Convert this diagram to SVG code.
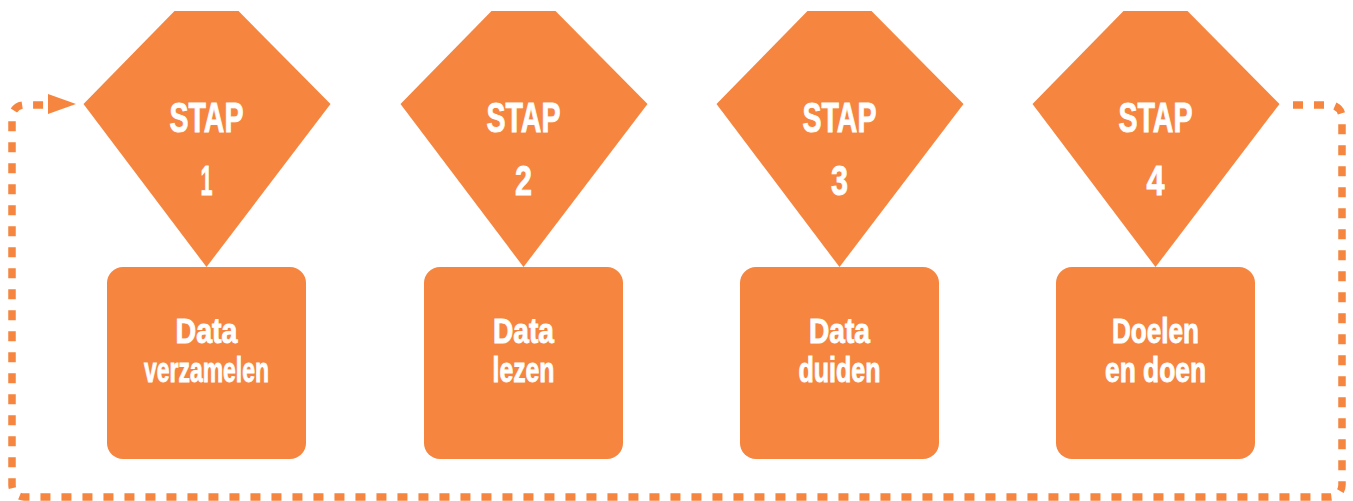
<svg xmlns="http://www.w3.org/2000/svg" width="1353" height="501" viewBox="0 0 1353 501">
<style>
.shape{fill:#F5853F;}
.t{font-family:"Liberation Sans",Arial,sans-serif;font-weight:bold;fill:#FFFFFF;stroke:#FFFFFF;stroke-width:0.9;text-anchor:middle;}
.big{font-size:42px;}
.lbl{font-size:35px;}
.dash{fill:none;stroke:#F5853F;stroke-width:7.5;stroke-dasharray:10 11;}
</style>
<defs>
<polygon id="kite" points="-32,11 32,11 124,104 0,267 -123,104"/>
<rect id="box" x="-99.5" y="267" width="199" height="192" rx="16" ry="16"/>
</defs>
<rect width="1353" height="501" fill="#FFFFFF"/>
<g id="connectors">
<path class="dash" d="M1293,105 H1330 A12,12 0 0 1 1342,117 V485 A12,12 0 0 1 1330,497 H24 A12,12 0 0 1 12,485 V117 A12,12 0 0 1 24,105 H46"/>
<polygon class="shape" points="48,94 76,104 48,114"/>
</g>
<g id="node1" transform="translate(206.5,0)">
<use href="#kite" class="shape"/>
<use href="#box" class="shape"/>
<text class="t big" x="0" y="132" textLength="74" lengthAdjust="spacingAndGlyphs">STAP</text>
<text class="t big" x="0" y="195" textLength="12" lengthAdjust="spacingAndGlyphs">1</text>
<text class="t lbl" x="0" y="343" textLength="62" lengthAdjust="spacingAndGlyphs">Data</text>
<text class="t lbl" x="0" y="382" textLength="125" lengthAdjust="spacingAndGlyphs">verzamelen</text>
</g>
<g id="node2" transform="translate(523.5,0)">
<use href="#kite" class="shape"/>
<use href="#box" class="shape"/>
<text class="t big" x="0" y="132" textLength="74" lengthAdjust="spacingAndGlyphs">STAP</text>
<text class="t big" x="0" y="195" textLength="17" lengthAdjust="spacingAndGlyphs">2</text>
<text class="t lbl" x="0" y="343" textLength="61" lengthAdjust="spacingAndGlyphs">Data</text>
<text class="t lbl" x="0" y="382" textLength="62" lengthAdjust="spacingAndGlyphs">lezen</text>
</g>
<g id="node3" transform="translate(839.5,0)">
<use href="#kite" class="shape"/>
<use href="#box" class="shape"/>
<text class="t big" x="0" y="132" textLength="74" lengthAdjust="spacingAndGlyphs">STAP</text>
<text class="t big" x="0" y="195" textLength="17" lengthAdjust="spacingAndGlyphs">3</text>
<text class="t lbl" x="0" y="343" textLength="61" lengthAdjust="spacingAndGlyphs">Data</text>
<text class="t lbl" x="0" y="382" textLength="82" lengthAdjust="spacingAndGlyphs">duiden</text>
</g>
<g id="node4" transform="translate(1155.5,0)">
<use href="#kite" class="shape"/>
<use href="#box" class="shape"/>
<text class="t big" x="0" y="132" textLength="74" lengthAdjust="spacingAndGlyphs">STAP</text>
<text class="t big" x="0" y="195" textLength="18" lengthAdjust="spacingAndGlyphs">4</text>
<text class="t lbl" x="0" y="343" textLength="87" lengthAdjust="spacingAndGlyphs">Doelen</text>
<text class="t lbl" x="0" y="382" textLength="101" lengthAdjust="spacingAndGlyphs">en doen</text>
</g>
</svg>
